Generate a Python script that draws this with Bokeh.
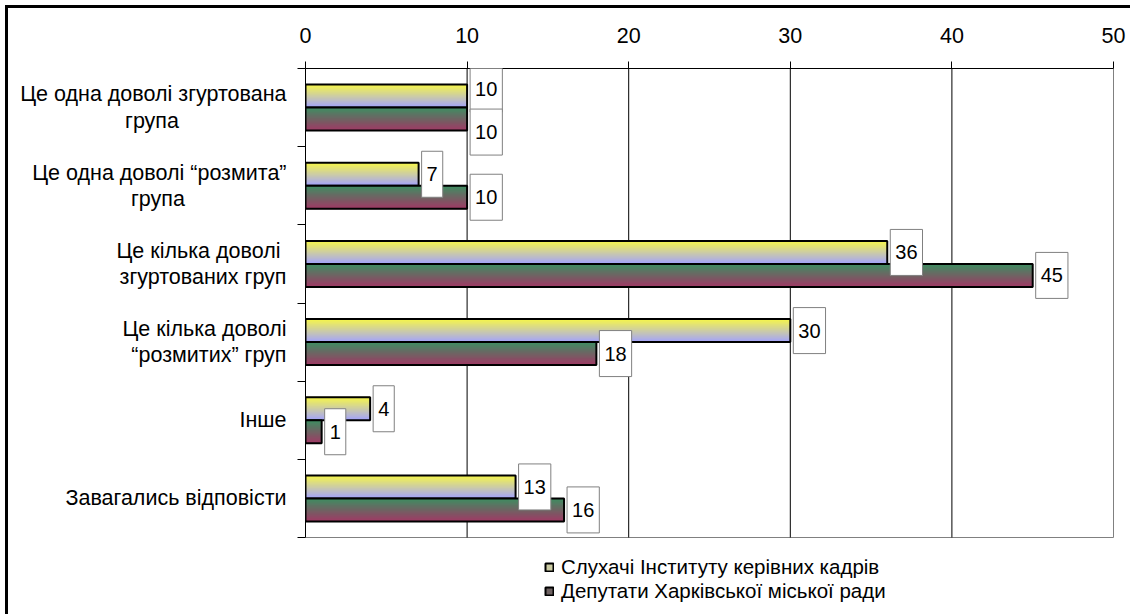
import numpy as np
from bokeh.plotting import figure
from bokeh.models import (Range1d, FixedTicker, Label, Legend, LegendItem)
from bokeh.embed import file_html
from bokeh.resources import INLINE

# ---------------- data ----------------
categories = [
    "Це одна доволі згуртована\nгрупа",
    "Це одна доволі “розмита”\nгрупа",
    "Це кілька доволі\nзгуртованих груп",
    "Це кілька доволі\n“розмитих” груп",
    "Інше",
    "Завагались відповісти",
]
series_names = ["Слухачі Інституту керівних кадрів", "Депутати Харківської міської ради"]
listeners = [10, 7, 36, 30, 4, 13]
deputies = [10, 10, 45, 18, 1, 16]
x_ticks = [0, 10, 20, 30, 40, 50]

# ---------------- style ----------------
FONT = "Liberation Sans"
CAT_FS = 21.5
# approximate rendered widths (px) of each label line, used to centre lines in a block
label_line_widths = [[267, 53], [255, 53], [166, 176], [165, 163], [29], [247]]
NBSP_W = 0.278 * CAT_FS
grad_top = [(246, 246, 74), (62, 142, 98)]
grad_bot = [(166, 166, 246), (156, 60, 100)]
BAR_H = 0.294
N_STRIPS = 24
PLOT_PX = 469          # height of the category area in px
FRAME_H = 546          # frame also holds the legend area below the categories
FRAME_W = 810
AREA_W = 808


def lerp(c0, c1, t):
    return "#%02x%02x%02x" % tuple(int(round(a + (b - a) * t)) for a, b in zip(c0, c1))


def centre_lines(text, widths):
    lines = text.split("\n")
    mw = max(widths)
    out = []
    for ln, w in zip(lines, widths):
        k = int(round((mw - w) / 2 / NBSP_W))
        out.append(ln + "\u00a0" * k)
    return "\n".join(out)


n = len(categories)
yc = np.arange(n) + 0.5
xmax = x_ticks[-1]

p = figure(frame_width=FRAME_W, frame_height=FRAME_H,
           min_border_left=297, min_border_right=15, min_border_top=60, min_border_bottom=0,
           x_range=Range1d(0, xmax * FRAME_W / AREA_W),
           y_range=Range1d(n * FRAME_H / PLOT_PX, 0),
           x_axis_location="above", output_backend="svg", toolbar_location=None,
           background_fill_color="white", border_fill_color="white")
p.styles = {"margin-left": "5px", "margin-top": "5px",
            "border-left": "3px solid black", "border-top": "3px solid black"}
p.outline_line_color = None
p.xgrid.visible = False
p.ygrid.visible = False

# top x axis
xa = p.xaxis[0]
xa.bounds = (0, xmax)
xa.ticker = FixedTicker(ticks=x_ticks, minor_ticks=[])
xa.major_tick_out = 7
xa.major_tick_in = 0
xa.minor_tick_out = 0
xa.minor_tick_in = 0
xa.axis_line_color = "black"
xa.major_tick_line_color = "black"
xa.major_label_text_font = FONT
xa.major_label_text_font_size = f"{CAT_FS}px"
xa.major_label_text_color = "black"
xa.major_label_standoff = 19

# left y axis: labels at category centres, tick marks at category boundaries
ya = p.yaxis[0]
ya.bounds = (0, n)
ya.ticker = FixedTicker(ticks=[float(c) for c in yc], minor_ticks=list(range(n + 1)))
ya.major_label_overrides = {float(c): centre_lines(cat, w)
                            for c, cat, w in zip(yc, categories, label_line_widths)}
ya.major_tick_out = 0
ya.major_tick_in = 0
ya.minor_tick_out = 8
ya.minor_tick_in = 0
ya.minor_tick_line_color = "black"
ya.axis_line_color = "black"
ya.major_label_standoff = 11
ya.major_label_text_font = FONT
ya.major_label_text_font_size = f"{CAT_FS}px"
ya.major_label_text_color = "black"
ya.major_label_text_line_height = 1.1

# plot area border and vertical grid lines
p.quad(left=0, right=xmax, top=0, bottom=n, fill_color=None,
       line_color="#808080", line_width=1)
p.segment(x0=x_ticks[1:-1], y0=0, x1=x_ticks[1:-1], y1=n, line_color="black", line_width=1)

legend_items = []
for si, vals in enumerate([listeners, deputies]):
    other = deputies if si == 0 else listeners
    top_edge = yc - BAR_H if si == 0 else yc
    strips = []
    for k in range(N_STRIPS):
        t = k / (N_STRIPS - 1)
        r = p.hbar(y=top_edge + (k + 0.5) * BAR_H / N_STRIPS, left=0, right=vals,
                   height=BAR_H / N_STRIPS * 2.0,
                   fill_color=lerp(grad_top[si], grad_bot[si], t), line_color=None)
        strips.append(r)
    outline = p.hbar(y=top_edge + BAR_H / 2, left=0, right=vals, height=BAR_H,
                     fill_color=None, line_color="black", line_width=2)
    legend_items.append(LegendItem(label=series_names[si],
                                   renderers=[strips[N_STRIPS // 2], outline]))
    for i, v in enumerate(vals):
        # push apart the two boxes of a category when they would overlap
        clash = abs(v - other[i]) < 2.5
        yoff = (7 if si == 0 else -13) if clash else 0
        p.add_layout(Label(x=v, y=top_edge[i] + BAR_H / 2, text=str(v),
                           x_offset=3, y_offset=yoff,
                           text_align="left", text_baseline="middle",
                           text_font=FONT, text_font_size="20px", text_color="black",
                           background_fill_color="white",
                           border_line_color="#808080", border_line_width=1,
                           padding=dict(left=5, right=5, top=16, bottom=16)))

legend = Legend(items=legend_items, location=(239, 11), orientation="vertical",
                glyph_width=10, glyph_height=10, label_standoff=7,
                label_height=23, spacing=0, padding=0, margin=0,
                label_text_font=FONT, label_text_font_size="20.5px", label_text_color="black",
                background_fill_alpha=0, border_line_color=None)
p.add_layout(legend)

open("out.html", "w").write(file_html(p, INLINE))
